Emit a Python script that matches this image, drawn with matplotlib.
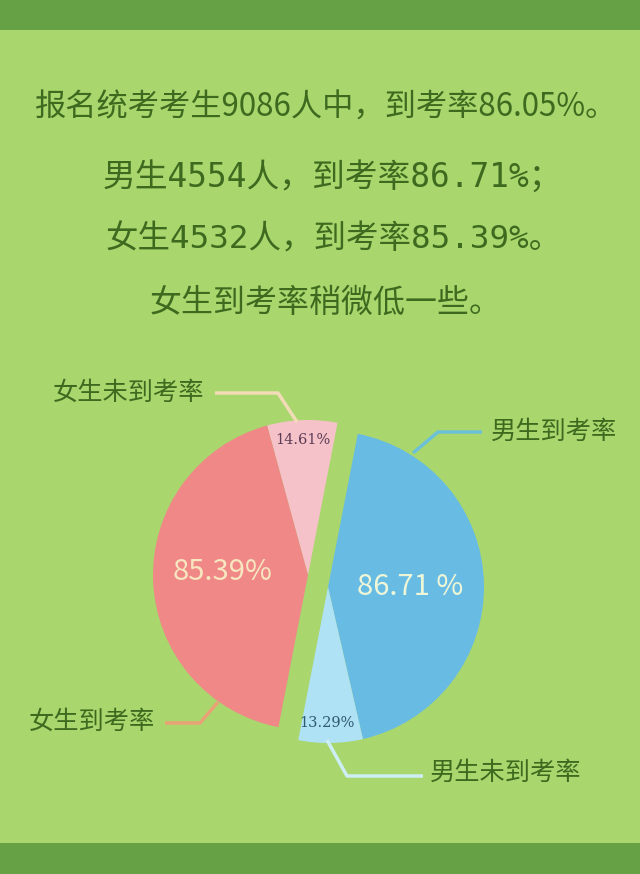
import matplotlib
matplotlib.use("Agg")
import matplotlib.pyplot as plt
from matplotlib.patches import Rectangle

plt.rcParams['font.family'] = ['Noto Sans CJK SC', 'DejaVu Sans']

W, H = 640, 874

# data
headline = [
    "报名统考考生9086人中，到考率86.05%。",
    "男生4554人，到考率86.71%；",
    "女生4532人，到考率85.39%。",
    "女生到考率稍微低一些。",
]
male_labels = ["男生到考率", "男生未到考率"]
male_rates = [86.71, 13.29]
female_labels = ["女生未到考率", "女生到考率"]
female_rates = [14.61, 85.39]

bg = "#a9d66d"
band = "#66a146"
text_green = "#3d6a1e"
cjk = ['Noto Sans CJK SC', 'DejaVu Sans']
mono_cjk = ['DejaVu Sans Mono', 'Noto Sans CJK SC']


def Y(y):
    # image pixel row -> data y
    return H - y


fig = plt.figure(figsize=(W / 100, H / 100), dpi=100, facecolor=bg)
ax = fig.add_axes([0, 0, 1, 1])
ax.set_facecolor(bg)

ax.add_patch(Rectangle((0, Y(30)), W, 30, color=band, lw=0))
ax.add_patch(Rectangle((0, 0), W, H - 843, color=band, lw=0))

# headline text (left x, centre y, size, family)
line_pos = [(35, 108, 22.5, cjk), (103, 177, 23.6, mono_cjk),
            (106, 240, 23.4, mono_cjk), (150, 303, 23, cjk)]
for txt, (x, y, fs, fam) in zip(headline, line_pos):
    ax.text(x, Y(y), txt, ha='left', va='center', fontsize=fs,
            color=text_green, family=fam)

# male half (right)
male_cols = ["#68bce4", "#b0e2f6"]
ax.pie([v / 200 for v in male_rates], colors=male_cols, startangle=79,
       counterclock=False, center=(328, Y(587)), radius=156, normalize=False,
       frame=True, wedgeprops=dict(linewidth=0))

# female half (left)
female_cols = ["#f6c2c9", "#ef8887"]
ax.pie([v / 200 for v in female_rates], colors=female_cols, startangle=79,
       counterclock=True, center=(308, Y(575)), radius=155, normalize=False,
       frame=True, wedgeprops=dict(linewidth=0))

# percentage labels
ax.text(223, Y(572), f"{female_rates[1]:.2f}%", ha='center', va='center',
        fontsize=21, color="#f7e6bf")
ax.text(410, Y(587), f"{male_rates[0]:.2f} %", ha='center', va='center',
        fontsize=21, color="#eef6d8")
ax.text(303, Y(440), f"{female_rates[0]:.2f}%", ha='center', va='center',
        fontsize=10.5, color="#5b3c55", family='DejaVu Serif')
ax.text(327, Y(723), f"{male_rates[1]:.2f}%", ha='center', va='center',
        fontsize=10.5, color="#2f5a6e", family='DejaVu Serif')

# leader lines
ax.plot([215, 278, 297], [Y(393), Y(393), Y(422)], color="#f2dcb8", lw=2.5,
        solid_capstyle='butt')
ax.plot([482, 438, 413], [Y(432), Y(432), Y(453)], color="#6cc0d8", lw=2.5,
        solid_capstyle='butt')
ax.plot([165, 200, 218], [Y(723), Y(723), Y(702)], color="#e9a276", lw=2.5,
        solid_capstyle='butt')
ax.plot([423, 347, 327], [Y(776), Y(776), Y(740)], color="#cdeef4", lw=2.5,
        solid_capstyle='butt')

# category labels (left x, centre y)
label_pos = [(female_labels[0], 53, 393), (male_labels[0], 491, 432),
             (female_labels[1], 29, 722), (male_labels[1], 430, 773)]
for txt, x, y in label_pos:
    ax.text(x, Y(y), txt, ha='left', va='center', fontsize=18.2,
            color=text_green)

ax.set_xlim(0, W)
ax.set_ylim(0, H)
ax.set_aspect('auto')
ax.axis('off')

fig.savefig("out.png", dpi=100, facecolor=bg)
